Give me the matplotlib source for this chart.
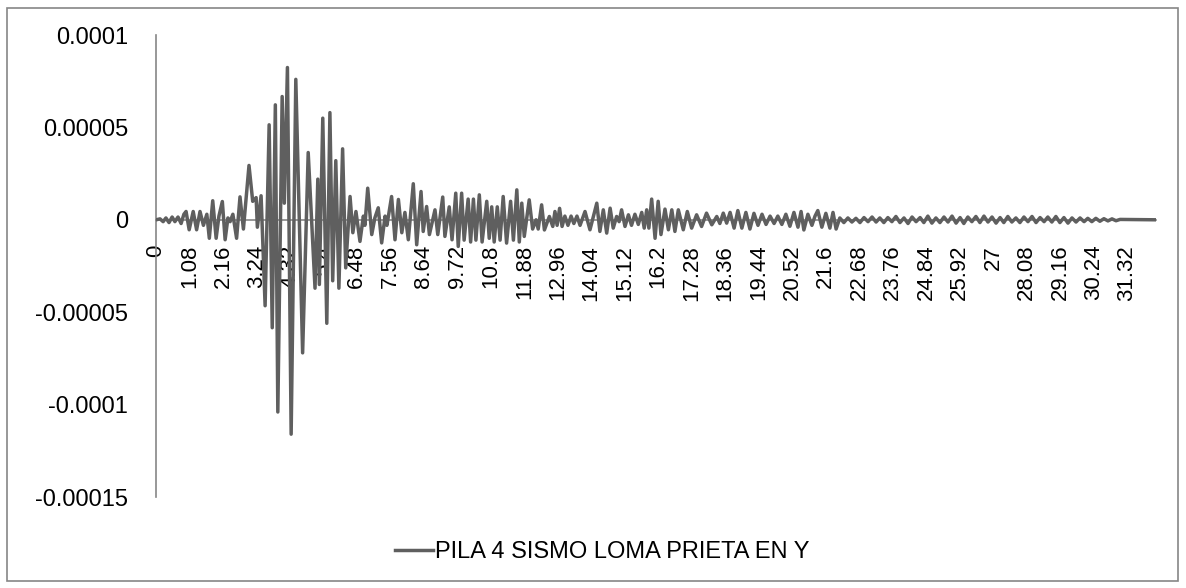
import matplotlib
matplotlib.use("Agg")
import matplotlib.pyplot as plt
import numpy as np
from matplotlib.patches import Rectangle

# ── data (time in s, response in units of 1e-5) ──
time_s = [
    0.00, 0.13, 0.23, 0.32, 0.42, 0.52, 0.61, 0.71, 0.81, 0.90,
    0.97, 1.07, 1.20, 1.31, 1.42, 1.53, 1.64, 1.72, 1.83, 1.94,
    2.03, 2.14, 2.23, 2.32, 2.39, 2.48, 2.60, 2.71, 2.82, 3.00,
    3.12, 3.23, 3.27, 3.39, 3.52, 3.65, 3.75, 3.85, 3.93, 4.07,
    4.14, 4.24, 4.36, 4.51, 4.73, 4.91, 5.02, 5.13, 5.22, 5.27,
    5.38, 5.51, 5.61, 5.70, 5.80, 5.90, 6.02, 6.12, 6.26, 6.35,
    6.45, 6.58, 6.69, 6.74, 6.83, 6.96, 7.06, 7.17, 7.28, 7.39,
    7.45, 7.60, 7.71, 7.82, 7.93, 8.03, 8.14, 8.30, 8.41, 8.55,
    8.62, 8.73, 8.82, 9.00, 9.09, 9.25, 9.32, 9.46, 9.55, 9.67,
    9.75, 9.86, 9.94, 10.07, 10.15, 10.24, 10.32, 10.43, 10.52, 10.67,
    10.75, 10.83, 10.91, 11.01, 11.10, 11.20, 11.31, 11.44, 11.53, 11.64,
    11.72, 11.80, 11.88, 12.04, 12.15, 12.26, 12.33, 12.44, 12.53, 12.69,
    12.80, 12.87, 12.94, 13.02, 13.10, 13.19, 13.29, 13.39, 13.48, 13.58,
    13.68, 13.84, 14.00, 14.22, 14.32, 14.43, 14.54, 14.65, 14.75, 14.86,
    14.94, 15.02, 15.13, 15.24, 15.34, 15.45, 15.56, 15.67, 15.75, 15.83,
    15.90, 15.99, 16.10, 16.20, 16.29, 16.42, 16.53, 16.64, 16.74, 16.85,
    17.01, 17.14, 17.28, 17.44, 17.60, 17.76, 17.93, 18.09, 18.19, 18.30,
    18.41, 18.52, 18.65, 18.77, 18.90, 19.03, 19.16, 19.29, 19.42, 19.55,
    19.68, 19.81, 19.94, 20.06, 20.19, 20.32, 20.45, 20.58, 20.71, 20.81,
    20.90, 21.03, 21.16, 21.26, 21.35, 21.48, 21.61, 21.74, 21.84, 21.94,
    22.06, 22.19, 22.32, 22.45, 22.58, 22.71, 22.84, 22.97, 23.10, 23.23,
    23.35, 23.48, 23.61, 23.74, 23.87, 24.00, 24.13, 24.26, 24.39, 24.52,
    24.65, 24.77, 24.90, 25.03, 25.16, 25.29, 25.42, 25.55, 25.68, 25.81,
    25.94, 26.06, 26.19, 26.32, 26.45, 26.58, 26.71, 26.84, 26.97, 27.10,
    27.23, 27.35, 27.48, 27.61, 27.74, 27.87, 28.00, 28.13, 28.26, 28.39,
    28.52, 28.65, 28.77, 28.90, 29.03, 29.16, 29.29, 29.42, 29.55, 29.68,
    29.81, 29.94, 30.06, 30.19, 30.32, 30.45, 30.58, 30.71, 30.84, 30.97,
    31.10, 32.26,
]
resp_e5 = [
    0.00, 0.05, -0.10, 0.10, -0.15, 0.15, -0.10, 0.15, -0.20, 0.30,
    0.45, -0.54, 0.45, -0.54, 0.45, -0.30, 0.30, -1.00, 1.03, -1.00,
    0.20, 0.99, -1.08, 0.10, -0.10, 0.30, -1.00, 1.24, -0.50, 2.94,
    1.00, 1.20, -0.40, 1.30, -4.65, 5.14, -5.84, 6.22, -10.40, 6.67,
    0.90, 8.24, -11.60, 7.60, -7.20, 3.64, 0.00, -3.70, 2.20, -3.50,
    5.50, -5.60, 5.80, -3.30, 3.20, -3.70, 3.84, -2.60, 1.26, -0.70,
    0.45, -1.17, 0.20, -0.30, 1.71, -0.80, 0.10, 0.65, -1.25, 0.20,
    -0.30, 1.26, -1.08, 1.10, -0.70, 0.40, -1.08, 1.95, -1.35, 1.53,
    -0.63, 0.72, -0.80, 0.54, -0.80, 1.23, -0.90, 0.70, -1.08, 1.44,
    -1.44, 1.44, -1.10, 1.12, -1.20, 1.12, -1.10, 1.35, -1.20, 1.00,
    -1.00, 0.70, -1.20, 0.70, -1.10, 1.26, -1.26, 1.00, -1.10, 1.62,
    -1.20, 0.90, -0.90, 1.08, -0.50, 0.00, -0.50, 0.81, -0.55, 0.18,
    -0.36, 0.45, -0.30, 0.62, -0.36, 0.20, -0.30, 0.20, -0.20, 0.20,
    -0.30, 0.45, -0.54, 0.90, -0.63, 0.54, -0.72, 0.63, -0.45, 0.18,
    -0.10, 0.54, -0.36, 0.27, -0.30, 0.30, -0.25, 0.40, -0.45, 0.54,
    -0.45, 1.12, -1.00, 1.00, -0.80, 0.58, -0.54, 0.54, -0.63, 0.54,
    -0.54, 0.45, -0.45, 0.27, -0.36, 0.36, -0.27, 0.18, -0.20, 0.36,
    -0.18, 0.40, -0.45, 0.50, -0.45, 0.40, -0.50, 0.35, -0.30, 0.30,
    -0.25, 0.20, -0.20, 0.20, -0.25, 0.30, -0.35, 0.40, -0.40, 0.45,
    -0.55, 0.30, -0.30, 0.20, 0.50, -0.40, 0.35, -0.45, 0.40, -0.50,
    0.10, -0.15, 0.10, -0.12, 0.08, -0.15, 0.12, -0.10, 0.15, -0.12,
    0.10, -0.15, 0.12, -0.10, 0.18, -0.15, 0.10, -0.20, 0.15, -0.10,
    0.12, -0.15, 0.20, -0.18, 0.10, -0.15, 0.15, -0.12, 0.20, -0.18,
    0.12, -0.20, 0.15, -0.10, 0.18, -0.15, 0.20, -0.12, 0.15, -0.18,
    0.12, -0.15, 0.18, -0.12, 0.10, -0.15, 0.15, -0.10, 0.18, -0.15,
    0.12, -0.10, 0.15, -0.12, 0.18, -0.15, 0.12, -0.18, 0.10, -0.12,
    0.10, -0.10, 0.08, -0.10, 0.08, -0.08, 0.06, -0.06, 0.05, -0.05,
    0.02, 0.00,
]
x_tick_labels = ["0", "1.08", "2.16", "3.24", "4.32", "5.4", "6.48", "7.56",
                 "8.64", "9.72", "10.8", "11.88", "12.96", "14.04", "15.12",
                 "16.2", "17.28", "18.36", "19.44", "20.52", "21.6", "22.68",
                 "23.76", "24.84", "25.92", "27", "28.08", "29.16", "30.24",
                 "31.32"]
y_tick_labels = ["-0.00015", "-0.0001", "-0.00005", "0", "0.00005", "0.0001"]
series_name = "PILA 4 SISMO LOMA PRIETA EN Y"

W, H = 1186, 588
plt.rcParams["font.family"] = ["Liberation Sans", "DejaVu Sans"]

fig = plt.figure(figsize=(W / 100, H / 100), dpi=100)
ax = fig.add_axes([156 / W, 1 - 497 / H, (1156 - 156) / W, (497 - 35) / H])

t = np.array(time_s)
y = np.array(resp_e5) * 1e-5
ax.plot(t, y, color="#5f5f5f", linewidth=2.5, solid_joinstyle="round",
        label=series_name, zorder=3)

ax.set_xlim(0, t[-1])
ax.set_ylim(-0.00015, 0.0001)

ax.set_xticks([float(s) for s in x_tick_labels], labels=x_tick_labels)
ax.set_yticks([float(s) for s in y_tick_labels], labels=y_tick_labels)
ax.tick_params(axis="x", length=0, pad=18, labelsize=16, labelrotation=90)
ax.tick_params(axis="y", length=0, pad=20, labelsize=17)

for side in ["top", "right"]:
    ax.spines[side].set_visible(False)
ax.spines["bottom"].set_position(("data", 0))
for side in ["bottom", "left"]:
    ax.spines[side].set_color("#868686")
    ax.spines[side].set_linewidth(1.2)
ax.spines["bottom"].set_zorder(2)

fig.legend(loc="center", bbox_to_anchor=(0.508, 1 - 552 / H),
           frameon=False, handlelength=1.6, handletextpad=0.1,
           prop={"size": 17})

# chart border
fig.patches.append(Rectangle((7 / W, 7 / H), (1178 - 7) / W, (580 - 7) / H,
                             transform=fig.transFigure, fill=False,
                             edgecolor="#868686", linewidth=1.2))

fig.savefig("out.png", dpi=100)
